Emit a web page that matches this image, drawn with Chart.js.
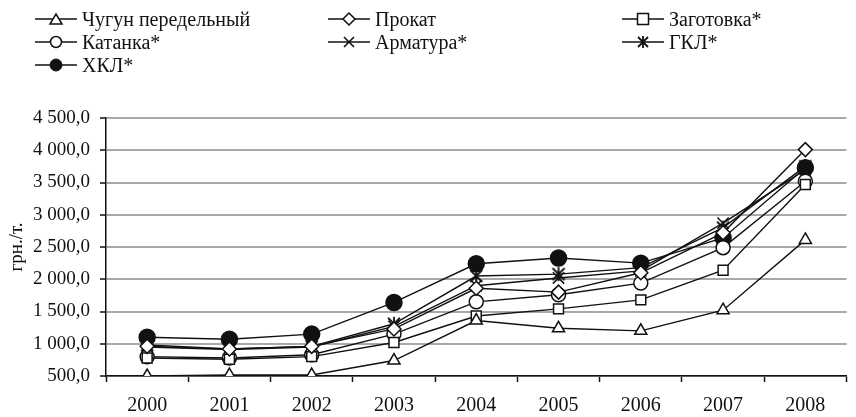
<!DOCTYPE html>
<html lang="ru">
<head>
<meta charset="UTF-8">
<title>Цены</title>
<style>
    body { margin: 0; background: #fff; font-family: "Liberation Serif", "DejaVu Serif", serif; }
    .wrap { position: relative; width: 856px; height: 417px; }
    .legend { position: absolute; left: 0; top: 0; width: 856px; height: 95px; }
    .legend .item { position: absolute; display: flex; align-items: center; font-size: 20px; line-height: 24px; color: #111; white-space: nowrap; }
    .legend svg { margin-right: 3px; }
</style>
<script src="https://cdn.jsdelivr.net/npm/chart.js"></script>
</head>
<body>
<div class="wrap">
    <canvas id="chart" width="856" height="417"></canvas>
    <div class="legend" id="legend"></div>
</div>
<script>
    const years = ['2000', '2001', '2002', '2003', '2004', '2005', '2006', '2007', '2008'];

    const chugun    = [500, 515, 515, 740, 1360, 1240, 1200, 1520, 2610];
    const prokat    = [960, 920, 960, 1230, 1860, 1800, 2100, 2720, 4010];
    const zagotovka = [780, 760, 800, 1020, 1430, 1540, 1680, 2140, 3470];
    const katanka   = [800, 780, 830, 1150, 1650, 1760, 1940, 2490, 3520];
    const armatura  = [950, 910, 950, 1270, 1900, 2020, 2130, 2870, 3700];
    const gkl       = [980, 920, 960, 1310, 2050, 2080, 2180, 2800, 3750];
    const hkl       = [1100, 1070, 1150, 1640, 2240, 2330, 2250, 2640, 3730];

    const seriesNames = ['Чугун передельный', 'Прокат', 'Заготовка*', 'Катанка*', 'Арматура*', 'ГКЛ*', 'ХКЛ*'];

    // маркер "Ж" для ГКЛ
    function zhMarker() {
        const c = document.createElement('canvas');
        c.width = 16; c.height = 16;
        const g = c.getContext('2d');
        g.strokeStyle = '#111';
        g.lineWidth = 1.8;
        g.beginPath();
        g.moveTo(2, 2); g.lineTo(14, 14);
        g.moveTo(14, 2); g.lineTo(2, 14);
        g.moveTo(8, 1); g.lineTo(8, 15);
        g.stroke();
        return c;
    }

    const styles = [
        { pointStyle: 'triangle', radius: 7, fill: '#fff' },
        { pointStyle: 'rectRot', radius: 7, fill: '#fff' },
        { pointStyle: 'rect', radius: 7, fill: '#fff' },
        { pointStyle: 'circle', radius: 7, fill: '#fff' },
        { pointStyle: 'crossRot', radius: 8, fill: '#fff' },
        { pointStyle: zhMarker(), radius: 8, fill: '#fff' },
        { pointStyle: 'circle', radius: 8, fill: '#111' }
    ];

    const values = [chugun, prokat, zagotovka, katanka, armatura, gkl, hkl];

    function fmt(v) {
        const s = v.toFixed(1).replace('.', ',');
        const parts = s.split(',');
        const intPart = parts[0].replace(/\B(?=(\d{3})+(?!\d))/g, ' ');
        return intPart + ',' + parts[1];
    }

    const ctx = document.getElementById('chart').getContext('2d');
    const chart = new Chart(ctx, {
        type: 'line',
        data: {
            labels: years,
            datasets: values.map((data, i) => ({
                label: seriesNames[i],
                data: data,
                borderColor: '#111',
                borderWidth: 1.4,
                backgroundColor: styles[i].fill,
                pointStyle: styles[i].pointStyle,
                pointRadius: styles[i].radius,
                pointBorderWidth: 1.5,
                pointBorderColor: '#111',
                pointBackgroundColor: styles[i].fill,
                tension: 0,
                fill: false
            }))
        },
        options: {
            responsive: false,
            animation: false,
            layout: { padding: { top: 118, right: 3, left: 0, bottom: 0 } },
            plugins: { legend: { display: false }, tooltip: { enabled: false } },
            scales: {
                x: {
                    offset: true,
                    afterFit: function(scale) { scale.height = 41; },
                    grid: {
                        offset: true,
                        drawOnChartArea: false,
                        drawTicks: true,
                        tickLength: 6,
                        tickColor: '#111',
                        tickWidth: 1.5
                    },
                    border: { color: '#111', width: 1.5 },
                    ticks: { color: '#111', padding: 12, font: { family: 'Liberation Serif', size: 20 } }
                },
                y: {
                    min: 500,
                    max: 4500,
                    afterFit: function(scale) { scale.width = 106; },
                    grid: {
                        color: '#a8a8a8',
                        lineWidth: 2,
                        tickColor: '#111',
                        tickLength: 6,
                        tickWidth: 1.5
                    },
                    border: { color: '#111', width: 1.5 },
                    ticks: {
                        stepSize: 500,
                        color: '#111',
                        padding: 10,
                        font: { family: 'Liberation Serif', size: 19 },
                        callback: function(v) { return fmt(v); }
                    },
                    title: {
                        display: true,
                        text: 'грн./т.',
                        color: '#111',
                        padding: { top: 6, bottom: 0 },
                        font: { family: 'Liberation Serif', size: 19 }
                    }
                }
            }
        }
    });

    // HTML-легенда в три колонки
    const legendPos = [
        [33, 7], [326, 7], [620, 7],
        [33, 30], [326, 30], [620, 30],
        [33, 53]
    ];
    const svgMarks = [
        '<polygon points="23,4 29,14 17,14" fill="#fff" stroke="#111" stroke-width="1.5"/>',
        '<polygon points="23,3 29,9 23,15 17,9" fill="#fff" stroke="#111" stroke-width="1.5"/>',
        '<rect x="17.5" y="3.5" width="11" height="11" fill="#fff" stroke="#111" stroke-width="1.5"/>',
        '<circle cx="23" cy="9" r="5.5" fill="#fff" stroke="#111" stroke-width="1.5"/>',
        '<path d="M18,4 L28,14 M28,4 L18,14" stroke="#111" stroke-width="1.6"/>',
        '<path d="M18,4 L28,14 M28,4 L18,14 M23,3 L23,15" stroke="#111" stroke-width="1.8"/>',
        '<circle cx="23" cy="9" r="6" fill="#111" stroke="#111" stroke-width="1"/>'
    ];
    const legend = document.getElementById('legend');
    seriesNames.forEach((name, i) => {
        const div = document.createElement('div');
        div.className = 'item';
        div.style.left = legendPos[i][0] + 'px';
        div.style.top = legendPos[i][1] + 'px';
        div.innerHTML = '<svg width="46" height="18"><line x1="2" y1="9" x2="44" y2="9" stroke="#111" stroke-width="1.5"/>' +
            svgMarks[i] + '</svg><span>' + name + '</span>';
        legend.appendChild(div);
    });
</script>
</body>
</html>
